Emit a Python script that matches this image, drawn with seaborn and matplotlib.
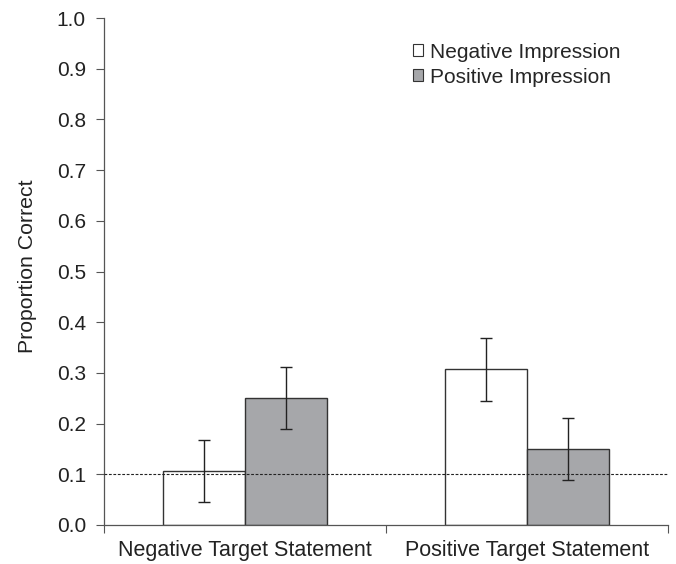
import matplotlib
matplotlib.use("Agg")
import matplotlib.pyplot as plt
import seaborn as sns
import pandas as pd
from matplotlib.patches import Patch

categories = ["Negative Target Statement", "Positive Target Statement"]
hue_levels = ["Negative Impression", "Positive Impression"]
neg_impression = [0.106, 0.307]
pos_impression = [0.250, 0.150]
neg_err = [0.061, 0.062]
pos_err = [0.061, 0.062]
chance_level = 0.1
y_ticks = [0.0, 0.1, 0.2, 0.3, 0.4, 0.5, 0.6, 0.7, 0.8, 0.9, 1.0]

sns.set_style("ticks")
plt.rcParams['font.family'] = ['Liberation Sans', 'DejaVu Sans']

df = pd.DataFrame({
    "statement": categories * 2,
    "impression": [hue_levels[0]] * 2 + [hue_levels[1]] * 2,
    "prop": neg_impression + pos_impression,
})
errs = {hue_levels[0]: neg_err, hue_levels[1]: pos_err}
colors = ["white", "#a6a7aa"]

fig = plt.figure(figsize=(6.76, 5.64), dpi=100)
ax = fig.add_axes([104/676, 1 - 525/564, (668-104)/676, (525-18)/564])

sns.barplot(data=df, x="statement", y="prop", hue="impression",
            order=categories, hue_order=hue_levels, palette=colors,
            edgecolor="#333333", linewidth=1.0, width=0.585,
            errorbar=None, legend=False, ax=ax, saturation=1)

for cont, lvl in zip(ax.containers, hue_levels):
    xs = [b.get_x() + b.get_width() / 2 for b in cont]
    hs = [b.get_height() for b in cont]
    ax.errorbar(xs, hs, yerr=errs[lvl], fmt="none", ecolor="#222222",
                elinewidth=1.0, capsize=4, capthick=1.0, zorder=5)

ax.axhline(chance_level, color="#222222", linestyle=(0, (2.5, 1.5)), linewidth=0.8, zorder=4)

ax.set_xlim(-0.5, 1.5)
ax.set_ylim(0, 1.0)
ax.set_yticks(y_ticks)
ax.set_yticklabels([f"{v:.1f}" for v in y_ticks], fontsize=15, color="#222222")
ax.set_xticks([0, 1])
ax.set_xticklabels(categories, fontsize=15.5, color="#222222")
ax.tick_params(axis="x", length=0, pad=11)
ax.tick_params(axis="y", length=6, width=0.8, color="#555555", pad=7)
# category boundary ticks
ax.set_xticks([-0.5, 0.5, 1.5], minor=True)
ax.tick_params(axis="x", which="minor", length=6, width=0.8, color="#555555", direction="out")
ax.set_xlabel("")
ax.set_ylabel("Proportion Correct", fontsize=15.3, color="#222222")
ax.yaxis.set_label_coords(-0.119, 0.51)

sns.despine(ax=ax)
for s in ["left", "bottom"]:
    ax.spines[s].set_color("#555555")
    ax.spines[s].set_linewidth(0.9)

handles = [Patch(facecolor=c, edgecolor="#333333", linewidth=0.8) for c in colors]
ax.legend(handles, hue_levels, loc="upper left", bbox_to_anchor=(0.533, 0.968),
          frameon=False, fontsize=15, handlelength=0.5, handleheight=0.5,
          handletextpad=0.3, labelspacing=0.3, borderaxespad=0)

fig.savefig("out.png", dpi=100)
